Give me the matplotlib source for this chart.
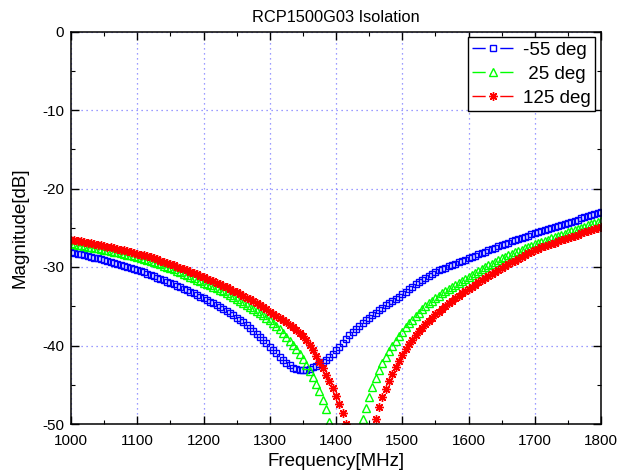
import numpy as np
import matplotlib
matplotlib.use("Agg")
import matplotlib.pyplot as plt
from matplotlib.lines import Line2D
from matplotlib.ticker import MultipleLocator

plt.rcParams['font.family'] = ['Liberation Sans', 'DejaVu Sans']
plt.rcParams['axes.unicode_minus'] = False

title = "RCP1500G03 Isolation"
xlabel = "Frequency[MHz]"
ylabel = "Magnitude[dB]"
labels = ["-55 deg", " 25 deg", "125 deg"]

freq = np.arange(1000, 1805, 5)

mag_m55 = [
    -28.10, -28.20, -28.30, -28.40, -28.50, -28.60, -28.70, -28.80, -28.90, -29.00, -29.10,
    -29.22, -29.34, -29.46, -29.58, -29.70, -29.84, -29.98, -30.12, -30.26, -30.40,
    -30.55, -30.70, -30.86, -31.02, -31.18, -31.34, -31.51, -31.68, -31.85, -32.02,
    -32.20, -32.38, -32.56, -32.75, -32.94, -33.13, -33.33, -33.54, -33.76, -33.98,
    -34.20, -34.41, -34.63, -34.86, -35.10, -35.35, -35.61, -35.88, -36.16, -36.45,
    -36.75, -37.06, -37.39, -37.74, -38.11, -38.50, -38.90, -39.32, -39.74, -40.16,
    -40.58, -41.00, -41.42, -41.82, -42.20, -42.54, -42.82, -43.02, -43.12, -43.14,
    -43.08, -42.96, -42.80, -42.60, -42.38, -42.12, -41.80, -41.44, -41.04, -40.62,
    -40.14, -39.64, -39.14, -38.68, -38.26, -37.86, -37.48, -37.12, -36.78, -36.45,
    -36.13, -35.81, -35.50, -35.20, -34.90, -34.61, -34.32, -34.04, -33.76, -33.48,
    -33.15, -32.83, -32.52, -32.22, -31.93, -31.65, -31.38, -31.11, -30.85, -30.60,
    -30.42, -30.24, -30.07, -29.90, -29.73, -29.56, -29.39, -29.22, -29.06, -28.90,
    -28.73, -28.56, -28.39, -28.22, -28.05, -27.88, -27.71, -27.54, -27.37, -27.20,
    -27.05, -26.90, -26.75, -26.60, -26.45, -26.30, -26.15, -26.00, -25.85, -25.70,
    -25.57, -25.43, -25.30, -25.16, -25.03, -24.89, -24.76, -24.62, -24.49, -24.35,
    -24.22, -24.08, -23.95, -23.81, -23.68, -23.54, -23.41, -23.27, -23.14, -23.00,
]

mag_25 = [
    -27.00, -27.08, -27.16, -27.24, -27.32, -27.40, -27.48, -27.56, -27.64, -27.72, -27.80,
    -27.88, -27.96, -28.05, -28.14, -28.23, -28.32, -28.42, -28.52, -28.62, -28.72,
    -28.84, -28.97, -29.10, -29.23, -29.37, -29.52, -29.67, -29.82, -29.98, -30.14,
    -30.31, -30.49, -30.67, -30.85, -31.04, -31.23, -31.43, -31.63, -31.84, -32.00,
    -32.16, -32.33, -32.51, -32.70, -32.90, -33.11, -33.33, -33.56, -33.80, -34.05,
    -34.30, -34.55, -34.81, -35.07, -35.34, -35.61, -35.89, -36.17, -36.46, -36.75,
    -37.11, -37.51, -37.94, -38.40, -38.89, -39.40, -39.94, -40.50, -41.10, -41.75,
    -42.45, -43.20, -44.00, -44.88, -45.85, -46.92, -48.12, -49.75, -51.60, -53.80,
    -56.50, -59.50, -61.50, -59.50, -56.00, -53.20, -51.20, -49.40, -47.90, -46.50,
    -45.25, -44.15, -43.15, -42.25, -41.43, -40.68, -40.00, -39.37, -38.78, -38.22,
    -37.68, -37.17, -36.69, -36.24, -35.81, -35.40, -35.01, -34.64, -34.29, -33.96,
    -33.65, -33.35, -33.06, -32.78, -32.51, -32.24, -31.98, -31.73, -31.48, -31.24,
    -30.99, -30.74, -30.50, -30.26, -30.02, -29.79, -29.56, -29.33, -29.11, -28.89,
    -28.70, -28.51, -28.33, -28.15, -27.97, -27.79, -27.61, -27.44, -27.27, -27.10,
    -26.95, -26.80, -26.65, -26.50, -26.35, -26.20, -26.05, -25.90, -25.75, -25.60,
    -25.45, -25.30, -25.15, -25.00, -24.85, -24.70, -24.55, -24.40, -24.25, -24.10,
]

mag_125 = [
    -26.50, -26.58, -26.66, -26.74, -26.82, -26.90, -26.98, -27.06, -27.14, -27.22, -27.31,
    -27.40, -27.49, -27.58, -27.68, -27.78, -27.88, -27.98, -28.09, -28.20, -28.30,
    -28.41, -28.53, -28.65, -28.77, -28.90, -29.04, -29.18, -29.32, -29.47, -29.63,
    -29.78, -29.94, -30.10, -30.27, -30.43, -30.60, -30.77, -30.95, -31.12, -31.30,
    -31.47, -31.65, -31.83, -32.01, -32.20, -32.39, -32.59, -32.79, -33.00, -33.22,
    -33.44, -33.67, -33.90, -34.14, -34.38, -34.63, -34.89, -35.15, -35.41, -35.67,
    -35.93, -36.20, -36.48, -36.77, -37.07, -37.37, -37.68, -38.00, -38.38, -38.83,
    -39.36, -39.96, -40.62, -41.33, -42.09, -42.90, -43.72, -44.58, -45.46, -46.38,
    -47.40, -48.62, -50.05, -51.80, -53.90, -56.50, -59.00, -60.00, -57.50, -54.00,
    -51.20, -49.30, -47.85, -46.60, -45.50, -44.50, -43.60, -42.75, -41.95, -41.20,
    -40.50, -39.86, -39.27, -38.72, -38.21, -37.73, -37.28, -36.85, -36.44, -36.05,
    -35.68, -35.32, -34.97, -34.63, -34.30, -33.98, -33.67, -33.37, -33.08, -32.80,
    -32.52, -32.24, -31.97, -31.70, -31.43, -31.17, -30.91, -30.65, -30.40, -30.15,
    -29.90, -29.66, -29.42, -29.18, -28.95, -28.72, -28.49, -28.27, -28.05, -27.83,
    -27.67, -27.51, -27.35, -27.19, -27.04, -26.89, -26.74, -26.59, -26.44, -26.29,
    -26.15, -26.01, -25.87, -25.73, -25.59, -25.45, -25.31, -25.17, -25.04, -24.90,
]

xticks = [1000, 1100, 1200, 1300, 1400, 1500, 1600, 1700, 1800]
yticks = [0, -10, -20, -30, -40, -50]

fig = plt.figure(figsize=(6.21, 4.72), dpi=100)
ax = fig.add_axes([71 / 621, 1 - 424 / 472, 530 / 621, (424 - 31.5) / 472])

asterisk = (8, 2, 0)
ax.plot(freq, mag_m55, linestyle='none', marker='s', ms=4.3, mfc='none',
        mec='#0000ff', mew=1.0)
ax.plot(freq, mag_25, linestyle='none', marker='^', ms=5.2, mfc='none',
        mec='#00ff00', mew=1.0)
ax.plot(freq, mag_125, linestyle='none', marker=asterisk, ms=6.2,
        mec='#ff0000', mew=1.0)

ax.set_xlim(1000, 1800)
ax.set_ylim(-50, 0)
ax.set_xticks(xticks)
ax.set_yticks(yticks)
ax.xaxis.set_minor_locator(MultipleLocator(50))
ax.yaxis.set_minor_locator(MultipleLocator(5))
ax.tick_params(which='both', direction='in', top=True, right=True,
               labelsize=11, colors='black')
ax.tick_params(axis='x', which='major', pad=7)
ax.tick_params(axis='y', which='major', pad=5)
ax.tick_params(which='major', length=6, width=1)
ax.tick_params(which='minor', length=3, width=0.8)
ax.grid(True, which='major', linestyle=(0, (1, 3)), color='#7c7cff', linewidth=0.9)
for s in ax.spines.values():
    s.set_linewidth(1.1)
    s.set_color('black')

ax.set_title(title, fontsize=11.8, pad=7)
ax.set_xlabel(xlabel, fontsize=13.5, labelpad=4)
ax.set_ylabel(ylabel, fontsize=13.5, labelpad=10)

dash = (0, (9.5, 10.5))
handles = [
    Line2D([0], [0], color='#0000ff', lw=1, ls=dash, marker='s', ms=4.3,
           mfc='none', mec='#0000ff'),
    Line2D([0], [0], color='#00ff00', lw=1, ls=dash, marker='^', ms=5.2,
           mfc='none', mec='#00ff00'),
    Line2D([0], [0], color='#ff0000', lw=1, ls=dash, marker=asterisk, ms=6.2,
           mec='#ff0000'),
]
leg = ax.legend(handles, labels, loc='upper right', fontsize=13.5, numpoints=1,
                handlelength=2.2, handletextpad=0.5, borderaxespad=0.3,
                borderpad=0.25, labelspacing=0.36, fancybox=False, framealpha=1,
                edgecolor='black')
leg.get_frame().set_linewidth(1.0)

fig.savefig("out.png", dpi=100)
